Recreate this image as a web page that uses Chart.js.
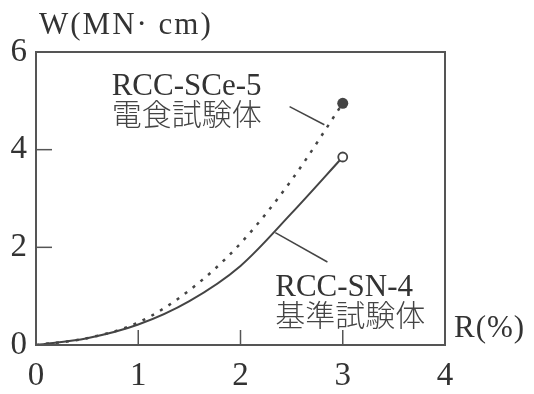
<!DOCTYPE html>
<html>
<head>
<meta charset="utf-8">
<script src="https://cdn.jsdelivr.net/npm/chart.js@4.4.1/dist/chart.umd.min.js"></script>
<style>
  html, body { margin: 0; padding: 0; background: #fff; }
  #wrap { width: 534px; height: 394px; }
</style>
</head>
<body>
<div id="wrap"><canvas id="chart-w-r"></canvas></div>
<script>
// ── data ──
const R_PCT  = [0, 0.5, 1, 1.5, 2, 2.5, 3];
const W_SN4  = [0, 0.14, 0.42, 0.9, 1.62, 2.7, 3.85];   // 基準試験体 (solid)
const W_SCE5 = [0, 0.14, 0.46, 1.12, 2.08, 3.38, 4.95]; // 電食試験体 (dotted)
const X_TICKS = [0, 1, 2, 3, 4];
const Y_TICKS = [0, 2, 4, 6];
// leader lines from the labels to the curves
const LEAD_SCE5_R = [2.48, 2.82];
const LEAD_SCE5_W = [4.88, 4.51];
const LEAD_SN4_R  = [2.34, 2.85];
const LEAD_SN4_W  = [2.30, 1.70];

const INK = '#444';
const TXT = '#333';
const SERIF = '"Liberation Serif", "DejaVu Serif", serif';
const CJK = '"Noto Sans CJK JP", "Noto Sans CJK SC", sans-serif';

const pts = (xs, ys) => xs.map((x, i) => ({ x, y: ys[i] }));
const last = R_PCT.length - 1;

// frame, inward ticks and all the loose text
const decor = {
  id: 'decor',
  afterDatasetsDraw(chart) {
    const { ctx, chartArea: a, scales: { x, y } } = chart;
    ctx.save();
    ctx.strokeStyle = '#555';
    ctx.lineWidth = 2;
    ctx.strokeRect(a.left, a.top, a.right - a.left, a.bottom - a.top);

    ctx.lineWidth = 1.5;
    X_TICKS.slice(1, -1).forEach(v => {
      const px = x.getPixelForValue(v);
      ctx.beginPath(); ctx.moveTo(px, a.bottom); ctx.lineTo(px, a.bottom - 15); ctx.stroke();
    });
    Y_TICKS.slice(1, -1).forEach(v => {
      const py = y.getPixelForValue(v);
      ctx.beginPath(); ctx.moveTo(a.left, py); ctx.lineTo(a.left + 16, py); ctx.stroke();
    });

    ctx.fillStyle = TXT;
    ctx.textAlign = 'left';
    ctx.textBaseline = 'alphabetic';
    ctx.font = '31px ' + SERIF;
    ctx.letterSpacing = '2px';
    ctx.fillText('W(MN· cm)', a.left + 3, a.top - 18);
    ctx.letterSpacing = '1px';
    ctx.fillText('R(%)', a.right + 9, a.bottom - 8);

    ctx.letterSpacing = '0px';
    const l1x = x.getPixelForValue(0.74), l1y = y.getPixelForValue(5.12);
    ctx.fillText('RCC-SCe-5', l1x, l1y);
    const l2x = x.getPixelForValue(2.34), l2y = y.getPixelForValue(1.0);
    ctx.fillText('RCC-SN-4', l2x, l2y);

    ctx.fillStyle = '#444';
    ctx.font = '300 30px ' + CJK;
    ctx.fillText('電食試験体', l1x, l1y + 30);
    ctx.fillText('基準試験体', l2x, l2y + 30);
    ctx.restore();
  }
};

new Chart(document.getElementById('chart-w-r'), {
  type: 'line',
  data: {
    datasets: [
      {
        label: 'RCC-SCe-5', data: pts(R_PCT, W_SCE5),
        borderColor: INK, borderWidth: 2.5, borderDash: [3, 7],
        cubicInterpolationMode: 'monotone',
        pointRadius: c => c.dataIndex === last ? 5.5 : 0,
        pointBackgroundColor: INK, pointBorderColor: INK, pointBorderWidth: 0,
      },
      {
        label: 'RCC-SN-4', data: pts(R_PCT, W_SN4),
        borderColor: INK, borderWidth: 2,
        cubicInterpolationMode: 'monotone',
        pointRadius: c => c.dataIndex === last ? 4.5 : 0,
        pointBackgroundColor: '#fff', pointBorderColor: INK, pointBorderWidth: 1.8,
      },
      { data: pts(LEAD_SCE5_R, LEAD_SCE5_W), borderColor: INK, borderWidth: 1.5, pointRadius: 0, tension: 0 },
      { data: pts(LEAD_SN4_R, LEAD_SN4_W), borderColor: INK, borderWidth: 1.5, pointRadius: 0, tension: 0 },
    ],
  },
  options: {
    responsive: true, maintainAspectRatio: false, animation: false,
    layout: { padding: { top: 52, right: 89, left: 0, bottom: 0 } },
    plugins: { legend: { display: false }, tooltip: { enabled: false } },
    scales: {
      x: {
        type: 'linear', min: 0, max: 4,
        afterBuildTicks: s => { s.ticks = X_TICKS.map(v => ({ value: v })); },
        afterFit: s => { s.height = 49; },
        grid: { display: false, drawTicks: false }, border: { display: false },
        ticks: { color: TXT, padding: 12, font: { family: SERIF, size: 33 } },
      },
      y: {
        min: 0, max: 6,
        afterBuildTicks: s => { s.ticks = Y_TICKS.map(v => ({ value: v })); },
        afterFit: s => { s.width = 36; },
        grid: { display: false, drawTicks: false }, border: { display: false },
        ticks: { color: TXT, padding: 9, font: { family: SERIF, size: 33 } },
      },
    },
  },
  plugins: [decor],
});
</script>
</body>
</html>
